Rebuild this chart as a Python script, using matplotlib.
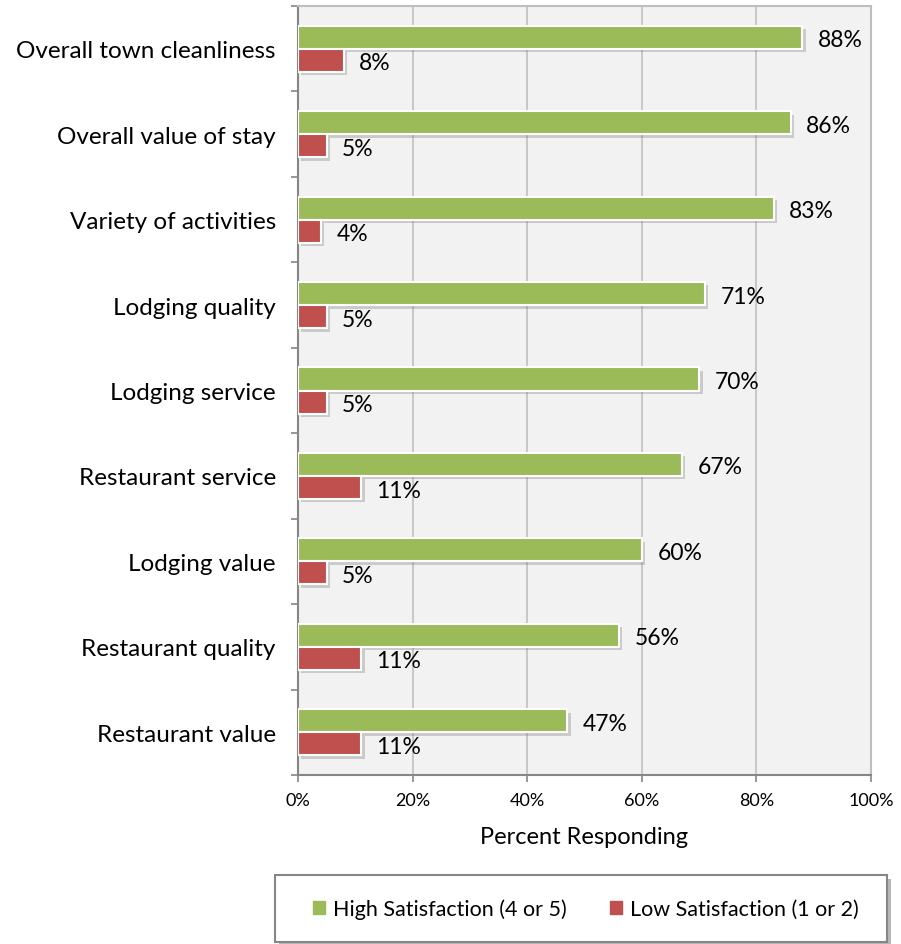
import matplotlib
matplotlib.use("Agg")
import matplotlib.pyplot as plt
import matplotlib.patheffects as pe
from matplotlib.patches import Rectangle
import numpy as np

plt.rcParams['font.family'] = ['Lato', 'DejaVu Sans']

categories = ["Overall town cleanliness", "Overall value of stay", "Variety of activities",
              "Lodging quality", "Lodging service", "Restaurant service",
              "Lodging value", "Restaurant quality", "Restaurant value"]
high = [88, 86, 83, 71, 70, 67, 60, 56, 47]
low = [8, 5, 4, 5, 5, 11, 5, 11, 11]
xticks = [0, 20, 40, 60, 80, 100]
series_names = ["High Satisfaction (4 or 5)", "Low Satisfaction (1 or 2)"]

green = "#9BBB59"
red = "#C0504D"

fig = plt.figure(figsize=(9.01, 9.45), dpi=100)
ax = fig.add_axes([298/901, 1-776/945, 573/901, 769/945])
ax.set_facecolor("#F2F2F2")

n = len(categories)
y = np.arange(n)
h = 0.27
shadow = [pe.SimplePatchShadow(offset=(2.5, -2.5), alpha=0.35, shadow_rgbFace="#808080"), pe.Normal()]
b1 = ax.barh(y - h/2, high, height=h, color=green, edgecolor="white", linewidth=1.5, zorder=3)
b2 = ax.barh(y + h/2, low, height=h, color=red, edgecolor="white", linewidth=1.5, zorder=3)
for b in list(b1) + list(b2):
    b.set_path_effects(shadow)

for i in range(n):
    ax.text(high[i] + 2.7, y[i] - h/2 + 0.03, f"{high[i]}%", va="center", ha="left", fontsize=16.5, color="#000000", zorder=4)
    ax.text(low[i] + 2.7, y[i] + h/2 + 0.03, f"{low[i]}%", va="center", ha="left", fontsize=16.5, color="#000000", zorder=4)

ax.set_xlim(0, 100)
ax.set_ylim(n - 0.5, -0.5)
ax.set_xticks(xticks)
ax.set_xticklabels([f"{t}%" for t in xticks], fontsize=13)
ax.set_yticks(y)
ax.set_yticklabels(categories, fontsize=17.5)
ax.set_yticks(np.arange(n + 1) - 0.5, minor=True)
ax.tick_params(axis='y', which='major', length=0, pad=16)
ax.tick_params(axis='y', which='minor', length=5, color="#868686", width=1.2)
ax.tick_params(axis='x', which='major', length=5, color="#868686", width=1.2, pad=7)
ax.grid(axis='x', color="#C4C4C4", linewidth=1.3, zorder=0)
ax.set_axisbelow(True)
for s in ["left", "bottom"]:
    ax.spines[s].set_color("#868686")
    ax.spines[s].set_linewidth(1.5)
for s in ["top", "right"]:
    ax.spines[s].set_color("#BEBEBE")
    ax.spines[s].set_linewidth(1.5)
ax.set_xlabel("Percent Responding", fontsize=17, labelpad=13)

# legend box
box = Rectangle((275/901, 1-943/945), (887-275)/901, (943-876)/945, transform=fig.transFigure,
                facecolor="white", edgecolor="#868686", linewidth=1.5, zorder=1)
box.set_path_effects([pe.SimplePatchShadow(offset=(3, -3), alpha=0.4), pe.Normal()])
fig.add_artist(box)

handles = [Rectangle((0, 0), 1, 1, color=green), Rectangle((0, 0), 1, 1, color=red)]
leg = fig.legend(handles, series_names, loc="center", bbox_to_anchor=(586/901, 1-910/945),
                 ncol=2, fontsize=15.5, frameon=False, handlelength=0.55, handleheight=0.55,
                 handletextpad=0.4, columnspacing=2.0)
leg.set_zorder(2)

fig.savefig("out.png", dpi=100)
